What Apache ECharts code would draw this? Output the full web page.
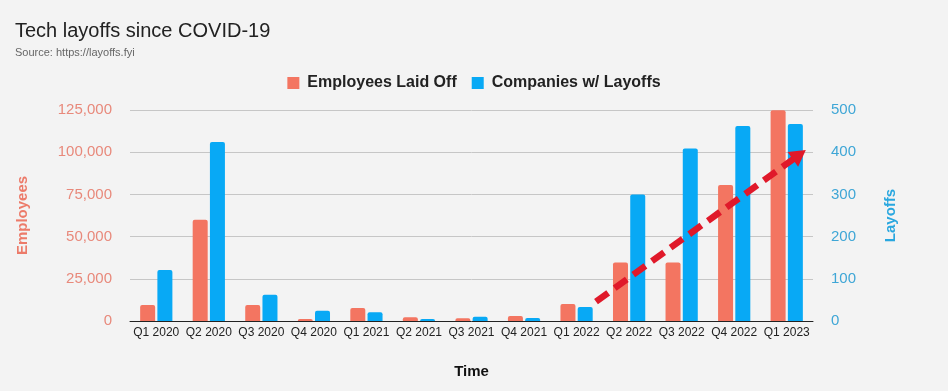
<!DOCTYPE html>
<html><head><meta charset="utf-8">
<script src="https://cdn.jsdelivr.net/npm/echarts@6/dist/echarts.min.js"></script>
<style>html,body{margin:0;padding:0;background:#f3f3f3}#c{width:948px;height:391px}</style>
</head><body><div id="c"></div>
<script>
const categories = ['Q1 2020','Q2 2020','Q3 2020','Q4 2020','Q1 2021','Q2 2021','Q3 2021','Q4 2021','Q1 2022','Q2 2022','Q3 2022','Q4 2022','Q1 2023'];
const employeesLaidOff = [9500, 60000, 9500, 1200, 7700, 2200, 1600, 3000, 10000, 34700, 34700, 80500, 124800];
const companiesWithLayoffs = [121, 424, 62, 24, 21, 5, 10, 7, 33, 300, 409, 462, 467];
const leftTicks = [0, 25000, 50000, 75000, 100000, 125000];
const rightTicks = [0, 100, 200, 300, 400, 500];
// trend arrow annotation: [category position (index), layoffs]
const arrowStart = [8.37, 46];
const arrowEnd = [12.24, 394];

const chart = echarts.init(document.getElementById('c'));
const FONT = 'Liberation Sans, Arial, sans-serif';
chart.setOption({
  backgroundColor: '#f3f3f3',
  animation: false,
  title: {
    text: 'Tech layoffs since COVID-19',
    subtext: 'Source: https://layoffs.fyi',
    left: 10, top: 16,
    itemGap: 6,
    textStyle: { fontFamily: FONT, fontSize: 20, fontWeight: 'normal', color: '#222' },
    subtextStyle: { fontFamily: FONT, fontSize: 11, color: '#666' }
  },
  legend: {
    top: 70, left: 'center',
    itemWidth: 12, itemHeight: 12, itemGap: 15,
    icon: 'rect',
    textStyle: { fontFamily: FONT, fontSize: 16, fontWeight: 'bold', color: '#222', padding: [0, 0, 0, 3] },
    data: ['Employees Laid Off', 'Companies w/ Layoffs']
  },
  grid: { left: 130, right: 135, top: 110, bottom: 70 },
  xAxis: [{
    type: 'category',
    data: categories,
    name: 'Time', nameLocation: 'middle', nameGap: 43,
    nameTextStyle: { fontFamily: FONT, fontSize: 15, fontWeight: 'bold', color: '#111' },
    axisLine: { lineStyle: { color: '#222', width: 1 } },
    axisTick: { show: false },
    axisLabel: { fontFamily: FONT, fontSize: 12, color: '#222', margin: 6, interval: 0 }
  }, {
    type: 'value', min: -0.5, max: categories.length - 0.5, show: false
  }],
  yAxis: [{
    type: 'value', min: leftTicks[0], max: leftTicks[leftTicks.length-1], interval: leftTicks[1]-leftTicks[0],
    name: 'Employees', nameLocation: 'middle', nameGap: 100, nameRotate: 90,
    nameTextStyle: { fontFamily: FONT, fontSize: 15, fontWeight: 'bold', color: '#ec7b6a' },
    axisLabel: { fontFamily: FONT, fontSize: 15, color: '#e8897b', margin: 18,
      formatter: v => v.toLocaleString('en-US') },
    splitLine: { lineStyle: { color: '#c6c6c6' } },
    axisLine: { show: false }, axisTick: { show: false }
  }, {
    type: 'value', min: rightTicks[0], max: rightTicks[rightTicks.length-1], interval: rightTicks[1]-rightTicks[0],
    name: 'Layoffs', nameLocation: 'middle', nameGap: 70, nameRotate: 90,
    nameTextStyle: { fontFamily: FONT, fontSize: 15, fontWeight: 'bold', color: '#29a7df' },
    axisLabel: { fontFamily: FONT, fontSize: 15, color: '#3ea6d6', margin: 18 },
    splitLine: { show: false },
    axisLine: { show: false }, axisTick: { show: false }
  }],
  series: [{
    name: 'Employees Laid Off', type: 'bar', yAxisIndex: 0,
    data: employeesLaidOff,
    barWidth: 15, barGap: '15%',
    itemStyle: { color: '#f37561', borderRadius: [2,2,0,0] }
  }, {
    name: 'Companies w/ Layoffs', type: 'bar', yAxisIndex: 1,
    data: companiesWithLayoffs,
    barWidth: 15, barGap: '15%',
    itemStyle: { color: '#08a9f5', borderRadius: [2,2,0,0] }
  }, {
    name: 'trend', type: 'line', xAxisIndex: 1, yAxisIndex: 1,
    data: [arrowStart, arrowEnd],
    symbol: 'none', lineStyle: { opacity: 0 }, silent: true, z: 10,
    markLine: {
      silent: true, z: 10,
      symbol: ['none', 'triangle'], symbolSize: [18, 16],
      label: { show: false },
      lineStyle: { color: '#e0192a', width: 6.5, type: [15, 8], cap: 'butt' },
      data: [[{ coord: arrowStart }, { coord: arrowEnd }]]
    }
  }]
});
</script></body></html>
